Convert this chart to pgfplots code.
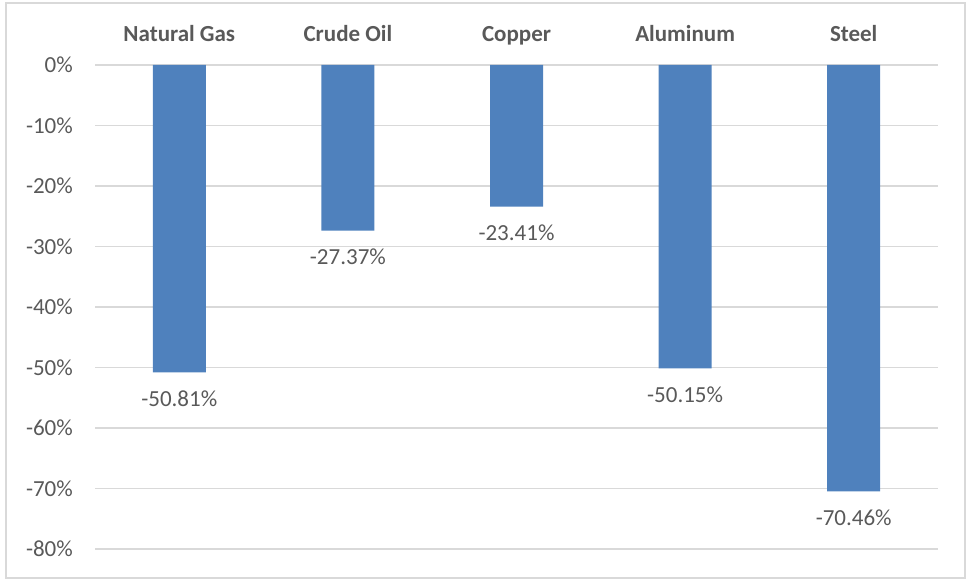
\documentclass[border=0pt]{standalone}
\usepackage{fontspec}
\setmainfont{Carlito}
\usepackage{pgfplots}
\pgfplotsset{compat=1.18}
\usetikzlibrary{calc}
\definecolor{barblue}{HTML}{4F81BD}
\definecolor{txtgrey}{HTML}{595959}
\definecolor{gridgrey}{HTML}{D9D9D9}
\newcommand{\chartfont}{\fontsize{23bp}{27bp}\selectfont}
\begin{document}
\begin{tikzpicture}
\begin{axis}[
  name=ax,
  scale only axis, width=843bp, height=484bp,
  xmin=-0.5, xmax=4.5, ymin=-80, ymax=0,
  ybar, bar width=53bp,
  xtick={0,...,4},
  xticklabels={Natural Gas, Crude Oil, Copper, Aluminum, Steel},
  xticklabel pos=upper,
  ytick={-80,-70,...,0},
  axis line style={draw=none},
  major tick length=0pt,
  ymajorgrids, grid style={gridgrey, line width=1.2bp},
  tick label style={font=\chartfont, text=txtgrey},
  xticklabel style={font=\chartfont\bfseries, anchor=base, inner sep=0pt, yshift=23.5bp},
  yticklabel style={anchor=east, inner sep=0pt, xshift=-22bp},
  yticklabel={\pgfmathprintnumber{\tick}\%},
  /pgf/number format/assume math mode=true,
  nodes near coords={\pgfmathprintnumber[fixed,fixed zerofill,precision=2]{\pgfplotspointmeta}\%},
  every node near coord/.append style={font=\chartfont, text=txtgrey, anchor=north, inner sep=0pt, yshift=-18bp},
  clip=false,
]
\addplot[fill=barblue, draw=none] coordinates {(0,-50.81) (1,-27.37) (2,-23.41) (3,-50.15) (4,-70.46)};
\end{axis}
% chart frame and page extent
\draw[gridgrey, line width=1.5bp] ($(ax.south west)+(-89bp,-29bp)$) rectangle ($(ax.north east)+(27bp,62bp)$);
\path ($(ax.south west)+(-95bp,-32bp)$) rectangle ($(ax.north east)+(29bp,65bp)$);
\end{tikzpicture}
\end{document}
